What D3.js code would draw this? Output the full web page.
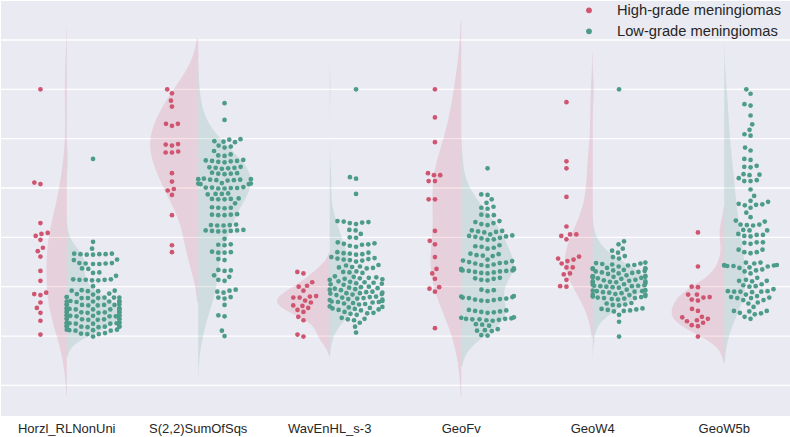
<!DOCTYPE html>
<html><head><meta charset="utf-8">
<script src="https://cdn.jsdelivr.net/npm/d3@7"></script>
<style>body{margin:0;background:#fff} svg{display:block}</style>
</head><body><svg id="chart" width="790" height="437"></svg>
<script>
const categories = ["Horzl_RLNonUni","S(2,2)SumOfSqs","WavEnHL_s-3","GeoFv","GeoW4","GeoW5b"];
const groups = ["High-grade meningiomas","Low-grade meningiomas"];
const gridTicks = [-3,-2,-1,0,1,2,3,4];

const highHorzl = [3.00,1.11,1.08,0.29,0.09,0.07,0.03,-0.05,-0.21,-0.28,-0.39,-0.68,-0.88,-1.12,-1.15,-1.17,-1.32,-1.43,-1.53,-1.69,-1.97];
const lowHorzl = [1.59,-0.09,-0.23,
-0.33,-0.34,-0.34,-0.35,-0.33,-0.35,-0.34,
-0.46,-0.45,
-0.52,-0.53,-0.53,-0.54,-0.52,-0.54,
-0.64,-0.63,-0.72,-0.71,-0.78,
-0.85,-0.86,-0.86,-0.87,-0.85,-0.87,-0.86,
-0.99,
-1.07,-1.08,-1.08,-1.09,-1.09,
-1.14,-1.15,-1.16,
-1.21,-1.22,-1.22,-1.23,-1.21,-1.23,-1.22,-1.23,
-1.29,-1.30,-1.30,-1.31,-1.29,-1.31,-1.30,
-1.36,-1.37,-1.37,-1.38,-1.36,-1.38,-1.37,-1.36,
-1.44,-1.45,-1.45,-1.46,-1.44,-1.46,-1.45,-1.44,-1.46,
-1.51,-1.52,-1.52,-1.53,-1.51,-1.53,-1.52,-1.51,
-1.58,-1.59,-1.59,-1.60,-1.58,-1.60,-1.59,-1.58,-1.60,
-1.65,-1.66,-1.66,-1.67,-1.65,-1.67,-1.66,-1.65,
-1.73,-1.74,-1.74,-1.75,-1.73,-1.75,-1.74,-1.73,-1.75,
-1.80,-1.81,-1.81,-1.82,-1.80,-1.82,-1.81,-1.80,
-1.87,-1.88,-1.88,-1.89,-1.87,-1.89,
-1.94,-1.95,-1.96,-1.96,-2.01];

const highS22 = [3.00,2.92,2.77,2.65,2.30,2.30,2.26,1.89,1.88,1.86,1.74,1.72,1.72,1.30,1.13,0.98,0.95,0.86,0.45,-0.16,-0.30];
const lowS22 = [2.72,2.38,
1.99,1.98,1.95,1.94,1.93,
1.86,1.84,1.82,1.75,
1.68,1.66,1.65,
1.57,1.56,1.55,1.55,1.54,1.53,1.52,
1.43,1.42,1.41,1.41,1.40,1.39,
1.31,1.30,1.29,1.29,1.28,
1.19,1.18,1.18,1.17,1.17,1.16,1.16,1.15,
1.10,1.09,1.09,1.08,1.08,
1.02,1.01,1.01,1.00,1.00,0.99,0.99,
0.89,0.88,0.88,0.87,
0.79,0.78,0.78,0.77,0.77,
0.69,
0.61,0.60,0.60,0.59,
0.47,0.46,0.46,0.45,0.45,
0.26,0.25,0.25,0.24,0.24,
0.15,0.14,0.14,0.13,0.13,0.12,0.12,
-0.03,-0.14,-0.15,-0.16,
-0.29,-0.30,-0.31,-0.31,
-0.44,-0.46,
-0.66,-0.67,-0.68,
-0.77,-0.80,-0.86,-0.88,
-1.06,-1.08,-1.10,-1.12,
-1.21,-1.22,-1.24,
-1.37,-1.58,-1.60,-1.89,-2.00];

const highWavEn = [-0.70,-0.73,-0.91,-0.98,-1.00,-1.08,-1.19,-1.20,-1.22,-1.22,-1.28,-1.32,-1.38,-1.39,-1.43,-1.47,-1.51,-1.61,-1.68,-1.97,-2.01];
const lowWavEn = [3.00,1.22,1.19,0.88,
0.33,0.32,0.31,0.30,0.29,0.27,
0.15,0.14,0.07,0.00,-0.01,
-0.10,-0.12,-0.13,-0.14,-0.15,-0.17,-0.19,
-0.30,-0.31,-0.32,-0.33,-0.34,-0.35,
-0.40,-0.42,-0.43,-0.44,-0.45,-0.46,-0.47,-0.49,
-0.56,-0.57,-0.59,-0.60,-0.61,-0.62,-0.63,
-0.69,-0.70,-0.71,-0.72,
-0.79,-0.80,-0.81,-0.82,-0.83,-0.84,-0.85,-0.86,
-0.89,-0.90,-0.91,-0.92,-0.93,-0.94,-0.95,-0.96,
-1.00,-1.01,-1.02,-1.03,-1.04,-1.05,-1.06,-1.07,
-1.10,-1.11,-1.12,-1.13,-1.13,-1.14,-1.15,-1.16,-1.17,
-1.20,-1.21,-1.22,-1.23,-1.24,-1.25,-1.26,-1.27,
-1.29,-1.30,-1.31,-1.31,-1.32,-1.33,-1.34,-1.35,-1.36,
-1.40,-1.41,-1.42,-1.43,-1.44,-1.45,-1.46,-1.47,-1.48,
-1.51,-1.53,-1.54,-1.55,-1.57,
-1.63,-1.65,-1.66,-1.68,
-1.73,-1.81,-1.93];

const highGeoFv = [3.00,2.43,1.93,1.30,1.26,1.26,1.14,1.14,0.77,0.77,0.13,-0.07,-0.14,-0.40,-0.64,-0.73,-0.84,-1.01,-1.04,-1.10,-1.84];
const lowGeoFv = [1.40,0.87,0.86,0.77,0.70,
0.62,0.60,0.58,
0.46,0.45,0.44,
0.33,0.31,0.29,0.27,0.25,
0.14,0.13,0.12,0.11,0.10,
0.06,0.04,0.03,0.02,0.01,-0.01,-0.02,-0.04,-0.05,
-0.16,-0.18,-0.19,-0.21,-0.23,
-0.33,-0.34,-0.36,-0.37,-0.38,
-0.45,-0.47,-0.48,-0.50,-0.51,-0.52,-0.53,-0.55,-0.56,-0.58,
-0.63,-0.64,-0.65,-0.66,-0.67,-0.67,-0.68,-0.68,-0.69,-0.70,-0.71,-0.72,-0.73,
-0.82,-0.83,-0.84,-0.86,-0.87,
-1.06,-1.07,-1.09,
-1.19,-1.20,-1.21,-1.22,-1.23,-1.24,-1.25,-1.26,-1.27,-1.28,-1.29,
-1.47,-1.48,-1.49,-1.50,-1.51,-1.52,-1.53,
-1.62,-1.63,-1.64,-1.65,-1.65,-1.66,-1.66,-1.67,-1.68,-1.69,
-1.76,-1.77,-1.79,
-1.86,-1.88,-1.89,-1.90,
-1.98,-1.99];

const highGeoW4 = [2.74,1.54,1.40,0.82,0.22,0.06,0.06,0.03,-0.04,-0.39,-0.43,-0.45,-0.48,-0.53,-0.61,-0.61,-0.73,-0.75,-0.86,-0.99,-1.00];
const lowGeoW4 = [3.00,-0.08,-0.14,-0.23,-0.27,-0.31,-0.38,-0.40,-0.43,
-0.51,-0.52,-0.53,-0.54,-0.55,-0.56,-0.57,-0.59,
-0.62,-0.63,-0.63,-0.64,-0.64,
-0.66,-0.67,-0.68,-0.69,-0.70,-0.71,-0.72,-0.73,-0.74,
-0.77,-0.78,-0.79,-0.79,-0.80,-0.80,-0.81,-0.82,-0.83,-0.84,
-0.86,-0.87,-0.88,-0.89,-0.89,-0.90,-0.91,-0.92,-0.93,
-0.95,-0.96,-0.97,-0.98,-0.98,-0.99,-0.99,-1.00,-1.01,-1.02,
-1.06,-1.07,-1.08,-1.09,-1.09,-1.10,-1.11,-1.12,-1.13,
-1.15,-1.16,-1.16,-1.17,
-1.19,-1.20,-1.21,-1.22,-1.23,-1.23,-1.24,-1.25,-1.26,
-1.33,-1.34,-1.36,-1.37,-1.38,
-1.44,-1.45,-1.46,-1.47,-1.48,-1.49,-1.50,
-1.57,-1.71,-2.01];

const highGeoW5b = [0.10,-0.59,-1.00,-1.01,-1.16,-1.16,-1.21,-1.22,-1.26,-1.28,-1.45,-1.49,-1.61,-1.62,-1.65,-1.68,-1.70,-1.73,-1.78,-1.80,-2.01];
const lowGeoW5b = [3.00,2.91,2.70,2.67,2.47,2.29,2.18,2.09,2.06,
1.82,1.76,1.59,1.57,1.45,1.43,1.42,1.28,1.27,1.26,1.20,1.16,1.14,1.14,0.97,
0.84,0.74,0.72,0.68,0.67,0.66,0.65,0.60,0.50,0.41,0.34,0.32,0.26,0.26,0.25,0.24,0.15,0.14,0.14,0.07,0.05,0.05,0.03,0.02,
-0.10,-0.10,-0.11,-0.13,-0.25,-0.25,-0.30,-0.30,-0.32,
-0.51,-0.51,-0.53,-0.56,-0.57,-0.57,-0.58,-0.56,-0.58,-0.59,-0.61,-0.62,
-0.65,-0.67,-0.69,-0.73,-0.82,-0.86,-0.88,-0.88,-0.89,-0.95,-0.97,-0.99,-1.00,
-1.05,-1.09,-1.09,-1.10,-1.10,-1.10,-1.11,-1.16,-1.19,-1.21,-1.22,-1.23,-1.23,-1.27,-1.27,
-1.32,-1.34,-1.41,-1.49,-1.49,-1.50,-1.53,-1.54,-1.56,-1.61,-1.65];

const highValues = [highHorzl, highS22, highWavEn, highGeoFv, highGeoW4, highGeoW5b];
const lowValues = [lowHorzl, lowS22, lowWavEn, lowGeoFv, lowGeoW4, lowGeoW5b];

const colors = ["#cf5570", "#4d9b8b"];
const violinOpacity = 0.17;

const svg = d3.select("#chart");
const L = 1, R = 790, T = 1, B = 416;
const x = d3.scaleBand().domain(categories).range([L, R]).paddingInner(0).paddingOuter(0);
const y = d3.scaleLinear().domain([-3.62, 4.79]).range([B, T]);

svg.append("rect").attr("x", L).attr("y", T).attr("width", R - L).attr("height", B - T).attr("fill", "#eaeaf2");

svg.append("g").selectAll("line").data(gridTicks).join("line")
  .attr("x1", L).attr("x2", R).attr("y1", d => y(d)).attr("y2", d => y(d))
  .attr("stroke", "#fff").attr("stroke-width", 1.3);

// KDE, seaborn-like (scott bandwidth, cut=2, gridsize=100)
function kde(vals) {
  const n = vals.length, sd = d3.deviation(vals);
  const bw = Math.pow(n, -0.2) * sd;
  const lo = d3.min(vals) - 2 * bw, hi = d3.max(vals) + 2 * bw;
  return d3.range(100).map(i => {
    const t = lo + (hi - lo) * i / 99;
    const dens = d3.sum(vals, v => Math.exp(-0.5 * ((t - v) / bw) ** 2)) / (n * bw * Math.sqrt(2 * Math.PI));
    return [t, dens];
  });
}

const bwPx = x.bandwidth();
const halfW = 0.4 * bwPx;
const vg = svg.append("g");
categories.forEach((c, i) => {
  const cx = x(c) + bwPx / 2;
  const kh = kde(highValues[i]), kl = kde(lowValues[i]);
  const m = Math.max(d3.max(kh, d => d[1]), d3.max(kl, d => d[1]));
  const aH = d3.area().y(d => y(d[0])).x0(cx).x1(d => cx - d[1] / m * halfW);
  const aL = d3.area().y(d => y(d[0])).x0(cx).x1(d => cx + d[1] / m * halfW);
  vg.append("path").attr("d", aH(kh)).attr("fill", colors[0]).attr("fill-opacity", violinOpacity);
  vg.append("path").attr("d", aL(kl)).attr("fill", colors[1]).attr("fill-opacity", violinOpacity);
});

// seaborn-like beeswarm
function swarm(vals, mid, gutter) {
  const d = 6.0;
  const pts = vals.map(v => ({ v, py: y(v) })).sort((a, b) => b.py - a.py);
  const placed = [];
  for (const p of pts) {
    const nb = placed.filter(q => Math.abs(q.py - p.py) < d);
    const cands = [mid];
    let leftFirst = true;
    for (const q of nb) {
      const dy = p.py - q.py;
      const dx = Math.sqrt(Math.max(d * d - dy * dy, 0)) * 1.05;
      if (leftFirst) cands.push(q.x - dx, q.x + dx); else cands.push(q.x + dx, q.x - dx);
      leftFirst = !leftFirst;
    }
    const order = cands.map((c, k) => [c, k]).sort((a, b) => (Math.abs(a[0] - mid) - Math.abs(b[0] - mid)) || (a[1] - b[1]));
    let chosen = mid;
    for (const [c] of order) {
      if (nb.every(q => (q.x - c) ** 2 + (q.py - p.py) ** 2 >= d * d - 1e-6)) { chosen = c; break; }
    }
    p.x = chosen;
    placed.push(p);
  }
  placed.forEach(p => { p.x = Math.max(mid - gutter, Math.min(mid + gutter, p.x)); });
  return placed;
}

const pg = svg.append("g");
categories.forEach((c, i) => {
  const cx = x(c) + bwPx / 2;
  const off = 0.2 * bwPx;
  [[highValues[i], cx - off, 0], [lowValues[i], cx + off, 1]].forEach(([vals, mid, g]) => {
    const pts = swarm(vals, mid, 0.2 * bwPx);
    pg.append("g").selectAll("circle").data(pts).join("circle")
      .attr("cx", d => d.x).attr("cy", d => d.py).attr("r", 2.35).attr("fill", colors[g]);
  });
});

// x tick labels
svg.append("g").selectAll("text").data(categories).join("text")
  .attr("x", d => x(d) + bwPx / 2).attr("y", 432.7)
  .attr("text-anchor", "middle")
  .attr("font-family", "'Liberation Sans', Arial, sans-serif").attr("font-size", 13)
  .attr("fill", "#262626").text(d => d);

// legend
const lg = svg.append("g");
groups.forEach((g, i) => {
  lg.append("circle").attr("cx", 589).attr("cy", 10.3 + i * 21).attr("r", 2.9).attr("fill", colors[i]);
  lg.append("text").attr("x", 617).attr("y", 14.6 + i * 21)
    .attr("font-family", "'Liberation Sans', Arial, sans-serif").attr("font-size", 14.7)
    .attr("fill", "#262626").text(g);
});
</script></body></html>
